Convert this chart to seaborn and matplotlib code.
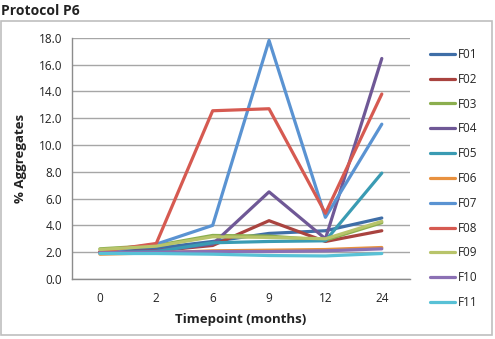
import matplotlib
matplotlib.use("Agg")
import matplotlib.pyplot as plt
import seaborn as sns
import pandas as pd
from matplotlib.patches import Rectangle
from matplotlib.ticker import FixedLocator

timepoints = ["0", "2", "6", "9", "12", "24"]
F01 = [2.0, 2.3, 2.8, 3.4, 3.6, 4.55]
F02 = [2.0, 2.1, 2.5, 4.35, 2.8, 3.6]
F03 = [2.25, 2.5, 3.25, 3.2, 2.9, 4.2]
F04 = [2.0, 2.1, 2.6, 6.5, 3.0, 16.45]
F05 = [1.95, 2.05, 2.7, 2.8, 2.85, 7.9]
F06 = [1.85, 1.95, 2.1, 2.15, 2.2, 2.35]
F07 = [2.0, 2.6, 4.0, 17.8, 4.6, 11.55]
F08 = [2.05, 2.65, 12.55, 12.7, 4.9, 13.8]
F09 = [2.2, 2.45, 3.15, 3.1, 3.0, 4.3]
F10 = [1.95, 2.0, 2.05, 2.05, 2.1, 2.25]
F11 = [1.9, 1.9, 1.85, 1.75, 1.72, 1.9]

series = {"F01": F01, "F02": F02, "F03": F03, "F04": F04, "F05": F05, "F06": F06,
          "F07": F07, "F08": F08, "F09": F09, "F10": F10, "F11": F11}
colors = {"F01": "#3F6EA7", "F02": "#A9433F", "F03": "#8BAE4E", "F04": "#6F5896",
          "F05": "#3A9BB3", "F06": "#E8913F", "F07": "#5A93D2", "F08": "#D65A51",
          "F09": "#B8C46A", "F10": "#8B70B4", "F11": "#58C1D6"}

rows = []
for name, vals in series.items():
    for t, v in zip(timepoints, vals):
        rows.append({"Timepoint": t, "value": v, "Formulation": name})
df = pd.DataFrame(rows)

sns.set_style("white")
plt.rcParams["font.family"] = ["Open Sans", "DejaVu Sans"]

fig = plt.figure(figsize=(4.95, 3.39), dpi=100)
ax = fig.add_axes([71.7 / 495, 60 / 339, 338.3 / 495, 241.3 / 339])

sns.lineplot(data=df, x="Timepoint", y="value", hue="Formulation", palette=colors,
             linewidth=2.3, ax=ax, legend=True, sort=False)

ax.set_xlim(-0.5, 5.5)
ax.set_ylim(0, 18)
ax.set_yticks([0, 2, 4, 6, 8, 10, 12, 14, 16, 18])
ax.set_yticklabels([f"{v:.1f}" for v in [0, 2, 4, 6, 8, 10, 12, 14, 16, 18]], fontsize=8.5, color="#222222")
ax.set_xticks(range(len(timepoints)))
ax.set_xticklabels(timepoints, fontsize=8.5, color="#222222")
ax.xaxis.set_minor_locator(FixedLocator([i - 0.5 for i in range(len(timepoints) + 1)]))
ax.tick_params(axis="x", which="major", length=0, pad=9)
ax.tick_params(axis="x", which="minor", length=4, color="#8c8c8c", width=1, direction="out")
ax.tick_params(axis="y", which="major", length=4, color="#8c8c8c", width=1, direction="out", pad=3)
ax.grid(axis="y", color="#a6a6a6", linewidth=1)
ax.grid(axis="x", visible=False)
ax.set_axisbelow(True)
for s in ["top", "right"]:
    ax.spines[s].set_visible(False)
for s in ["left", "bottom"]:
    ax.spines[s].set_color("#8c8c8c")
    ax.spines[s].set_linewidth(1)

ax.set_xlabel("Timepoint (months)", fontsize=9.5, fontweight="bold", color="#222222", labelpad=6)
ax.set_ylabel("% Aggregates", fontsize=9.5, fontweight="bold", color="#222222", labelpad=8)

handles, labels = ax.get_legend_handles_labels()
ax.legend(handles, labels, loc="upper left", bbox_to_anchor=(430 / 495, 1 - 48 / 339),
          bbox_transform=fig.transFigure, frameon=False, fontsize=8.5,
          handlelength=2.1, handletextpad=0.3, labelspacing=1.0, borderaxespad=0,
          borderpad=0)

fig.text(1 / 495, 1 - 11 / 339, "Protocol P6", fontsize=10, fontweight="bold",
         color="#222222", va="center", ha="left")
fig.patches.append(Rectangle((0.5 / 495, 4 / 339), 491 / 495, 314 / 339,
                             transform=fig.transFigure, fill=False,
                             edgecolor="#bfbfbf", linewidth=1.2))

fig.savefig("out.png", dpi=100)
